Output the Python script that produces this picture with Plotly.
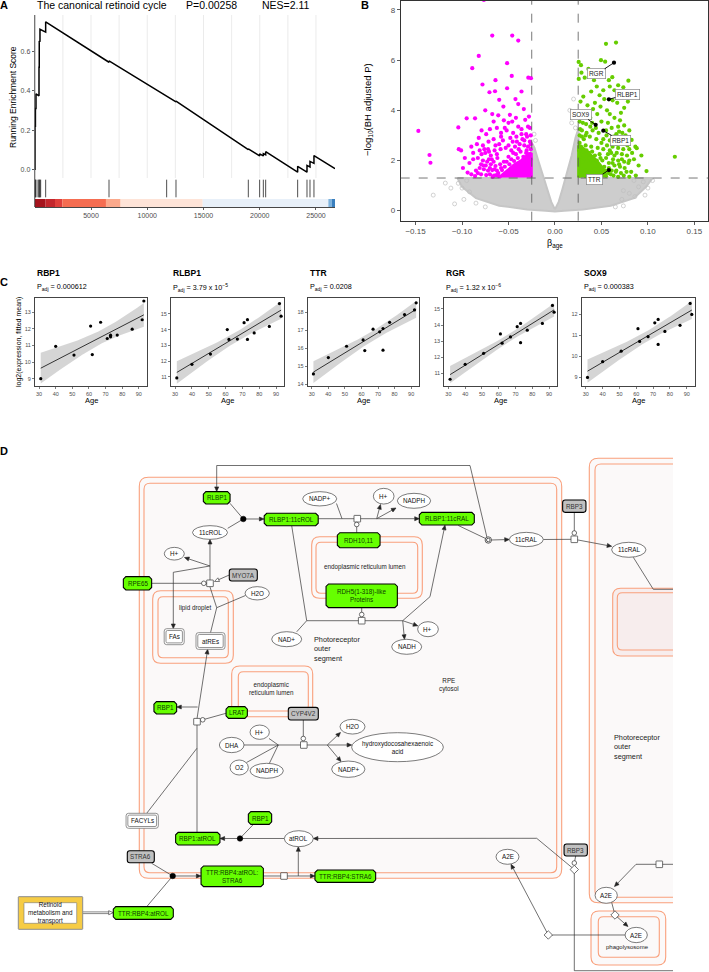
import math
import numpy as np
import plotly.graph_objects as go

W, H = 709, 972
FONT = "Liberation Sans, Arial, sans-serif"

# ======================= DATA =======================
# ---- Panel A: GSEA running enrichment score (rank, score) vertices
es_curve = [(0, 0.0), (20, 0.0), (20, 0.22), (60, 0.22), (60, 0.31), (110, 0.31), (110, 0.385),
            (370, 0.375), (378, 0.375), (378, 0.52), (400, 0.52), (400, 0.655), (465, 0.65),
            (465, 0.714), (850, 0.70), (970, 0.70), (970, 0.752), (6600, 0.546), (6600, 0.553),
            (11725, 0.37), (11725, 0.374), (12555, 0.344), (12555, 0.348), (18985, 0.10),
            (18985, 0.104), (19990, 0.068), (19990, 0.079), (20320, 0.068), (20320, 0.080),
            (20527, 0.074), (20527, 0.09), (23370, -0.015), (23370, 0.015), (24200, -0.015),
            (24200, 0.02), (24467, 0.012), (24467, 0.04), (24820, 0.03), (24820, 0.07), (26690, 0.003)]
hit_ranks = [20, 60, 110, 290, 378, 400, 465, 525, 970, 6600, 11725, 12555, 18985, 19990,
             20320, 20527, 23370, 24200, 24467, 24820]
rank_edges = [0, 970, 1800, 2450, 6330, 7630, 14930, 26100, 26400, 26690]
rank_colors = ['#A6141D', '#C3272D', '#DF3F3B', '#F56D51', '#FBA98C', '#FEE4D8', '#E8F0F9',
               '#7DB2DD', '#3A7FBE']
a_grid = [2500, 5000, 7500, 10000, 12500, 15000, 17500, 20000, 22500, 25000]
a_xticks = [5000, 10000, 15000, 20000, 25000]
a_xticktext = ['5000', '10000', '15000', '20000', '25000']
a_yticks = [0.0, 0.2, 0.4, 0.6]
a_yticktext = ['0.0', '0.2', '0.4', '0.6']

# ---- Panel B: volcano plot
beta_cut = 0.025
p_cut = 1.301
grey_cloud = [(-0.105, 1.3), (-0.0255, 1.3), (-0.0255, 2.75), (-0.022, 2.5), (-0.018, 2.0),
              (-0.013, 1.4), (-0.008, 0.8), (-0.004, 0.35), (0.0, 0.05), (0.004, 0.35),
              (0.008, 0.85), (0.013, 1.5), (0.018, 2.2), (0.022, 2.9), (0.0255, 3.3),
              (0.0255, 1.3), (0.105, 1.3), (0.098, 0.95), (0.085, 0.5), (0.06, 0.2),
              (0.03, 0.05), (0.01, 0.0), (0.0, -0.03), (-0.01, 0.0), (-0.03, 0.05),
              (-0.06, 0.2), (-0.085, 0.5), (-0.1, 0.95), (-0.105, 1.3)]
grey_pts = [(-0.131, 0.62), (-0.108, 0.27), (-0.104, 1.09), (-0.100, 0.9), (-0.095, 1.2),
            (-0.092, 0.75), (-0.098, 0.45), (-0.112, 0.9), (-0.118, 1.1), (0.0736, 0.8),
            (0.080, 0.69), (0.086, 0.56), (0.0969, 0.62), (0.0736, 0.19), (0.090, 0.95),
            (0.095, 1.15), (0.100, 0.9), (0.105, 1.2), (0.085, 1.2), (0.072, 0.45),
            (-0.085, 0.3), (-0.075, 0.15), (0.065, 0.15), (0.02, 4.45), (0.016, 4.0),
            (0.018, 3.5), (0.0215, 3.9), (-0.0225, 3.05), (-0.021, 2.8), (0.022, 3.3)]
down_core = [(-0.0255, 1.32), (-0.0255, 2.3), (-0.03, 2.2), (-0.036, 2.0), (-0.043, 1.85),
             (-0.05, 1.65), (-0.056, 1.45), (-0.06, 1.32)]
down_pts = [(-0.0675, 6.98), (-0.046, 6.98), (-0.0395, 6.78), (-0.082, 6.17), (-0.0515, 5.88),
            (-0.089, 5.68), (-0.0465, 5.37), (-0.0287, 5.3), (-0.0258, 5.28), (-0.064, 5.2),
            (-0.078, 5.03), (-0.0515, 4.88), (-0.0645, 4.76), (-0.036, 4.75), (-0.0705, 4.72),
            (-0.060, 4.42), (-0.0425, 4.45), (-0.0395, 4.25), (-0.0335, 4.05), (-0.0555, 4.15),
            (-0.075, 4.0), (-0.0675, 3.85), (-0.0485, 3.82), (-0.042, 3.7), (-0.095, 3.68),
            (-0.086, 3.68), (-0.055, 3.6), (-0.046, 3.55), (-0.032, 3.62), (-0.028, 3.75),
            (-0.027, 3.3), (-0.0625, 3.3), (-0.104, 3.32), (-0.147, 3.18), (-0.0395, 3.35),
            (-0.036, 3.25), (-0.052, 3.2), (-0.058, 3.1), (-0.074, 3.05), (-0.045, 3.1),
            (-0.031, 3.05), (-0.0415, 2.95), (-0.048, 2.9), (-0.066, 2.85), (-0.0715, 2.75),
            (-0.056, 2.8), (-0.035, 2.85), (-0.027, 2.75), (-0.06, 2.65), (-0.0775, 2.6),
            (-0.090, 2.55), (-0.05, 2.6), (-0.043, 2.55), (-0.1035, 2.45), (-0.101, 2.4),
            (-0.081, 2.4), (-0.072, 2.45), (-0.065, 2.4), (-0.0585, 2.45), (-0.079, 2.25),
            (-0.075, 2.3), (-0.069, 2.2), (-0.0625, 2.25), (-0.135, 2.22), (-0.088, 2.05),
            (-0.083, 2.1), (-0.0775, 2.0), (-0.071, 2.05), (-0.066, 1.95), (-0.134, 1.91),
            (-0.0795, 1.85), (-0.0745, 1.8), (-0.069, 1.85), (-0.064, 1.78), (-0.0765, 1.65),
            (-0.072, 1.6), (-0.0675, 1.62), (-0.0625, 1.6), (-0.094, 1.52), (-0.083, 1.5),
            (-0.0795, 1.45), (-0.074, 1.42), (-0.070, 1.45), (-0.0655, 1.4), (-0.086, 1.38),
            (-0.0605, 1.38), (-0.058, 1.7), (-0.055, 1.95), (-0.05, 2.15), (-0.045, 2.3),
            (-0.039, 2.45), (-0.033, 2.6), (-0.029, 2.55), (-0.026, 2.45), (-0.038, 2.65),
            (-0.0455, 2.75), (-0.053, 2.5), (-0.0305, 2.4), (-0.028, 2.25), (-0.0765, 8.4),
            (-0.026, 2.05), (-0.028, 1.95), (-0.031, 2.3), (-0.034, 2.15), (-0.037, 2.35),
            (-0.040, 2.1), (-0.042, 2.25), (-0.044, 1.98), (-0.047, 2.05), (-0.049, 1.85),
            (-0.052, 1.95), (-0.054, 1.75), (-0.057, 1.62), (-0.059, 1.85), (-0.061, 1.5),
            (-0.063, 1.42), (-0.065, 1.65), (-0.067, 1.35), (-0.068, 2.05), (-0.070, 1.7),
            (-0.073, 1.95), (-0.077, 1.8), (-0.081, 1.7), (-0.085, 1.6), (-0.090, 1.45),
            (-0.092, 1.9), (-0.097, 2.1), (-0.099, 1.7), (-0.088, 2.3), (-0.084, 2.65),
            (-0.082, 2.9), (-0.079, 3.2), (-0.070, 3.25), (-0.066, 3.55), (-0.061, 3.8),
            (-0.058, 2.95), (-0.054, 3.3), (-0.050, 3.5), (-0.047, 2.4), (-0.041, 2.75),
            (-0.036, 3.05), (-0.033, 2.8), (-0.030, 2.95), (-0.029, 3.35), (-0.026, 3.0),
            (-0.026, 2.65), (-0.064, 2.6), (-0.062, 2.1), (-0.071, 2.35), (-0.076, 2.45)]
up_core = [(0.0255, 1.32), (0.0255, 2.6), (0.03, 2.5), (0.036, 2.3), (0.042, 2.1),
           (0.048, 1.85), (0.053, 1.6), (0.056, 1.32)]
up_pts = [(0.0549, 6.65), (0.0657, 6.7), (0.0495, 6.0), (0.054, 5.94), (0.0255, 5.93),
          (0.028, 5.8), (0.036, 5.65), (0.0285, 5.5), (0.0256, 5.25), (0.032, 5.3),
          (0.0617, 5.32), (0.079, 5.18), (0.0736, 4.92), (0.042, 5.2), (0.045, 4.95),
          (0.059, 4.95), (0.068, 5.0), (0.0705, 4.75), (0.039, 4.75), (0.0305, 4.55),
          (0.048, 4.6), (0.053, 4.45), (0.062, 4.4), (0.067, 4.3), (0.0745, 4.1),
          (0.0785, 4.35), (0.0275, 4.35), (0.035, 4.2), (0.041, 4.05), (0.049, 4.15),
          (0.056, 4.0), (0.059, 3.85), (0.064, 3.7), (0.071, 3.9), (0.0455, 3.85),
          (0.038, 3.7), (0.031, 3.75), (0.0265, 3.55), (0.0335, 3.45), (0.040, 3.5),
          (0.050, 3.55), (0.057, 3.5), (0.061, 3.3), (0.068, 3.35), (0.0745, 3.4),
          (0.080, 3.2), (0.0725, 3.1), (0.066, 3.05), (0.0555, 3.0), (0.047, 3.1),
          (0.0405, 3.2), (0.034, 3.1), (0.029, 3.2), (0.0265, 3.0), (0.031, 2.85),
          (0.0375, 2.95), (0.0445, 2.85), (0.052, 2.85), (0.059, 2.8), (0.0645, 2.75),
          (0.070, 2.7), (0.0825, 2.82), (0.0865, 2.55), (0.088, 2.49), (0.078, 2.6),
          (0.0735, 2.45), (0.068, 2.5), (0.062, 2.55), (0.056, 2.6), (0.083, 2.3),
          (0.0775, 2.2), (0.072, 2.25), (0.0665, 2.3), (0.0605, 2.3), (0.129, 2.15),
          (0.080, 2.0), (0.0745, 1.95), (0.068, 2.0), (0.0625, 2.05), (0.070, 1.75),
          (0.064, 1.8), (0.0985, 1.58), (0.077, 1.55), (0.071, 1.5), (0.0655, 1.55),
          (0.061, 1.6), (0.080, 1.35), (0.074, 1.4), (0.068, 1.35), (0.063, 1.4),
          (0.0265, 2.7), (0.033, 2.6), (0.039, 2.55), (0.046, 2.5), (0.052, 2.45),
          (0.057, 2.25), (0.049, 2.1), (0.043, 2.2), (0.0365, 2.3), (0.030, 2.35),
          (0.0265, 2.15), (0.0295, 1.95), (0.035, 2.0), (0.041, 1.9), (0.047, 1.8),
          (0.053, 1.75), (0.058, 1.9), (0.0575, 1.5), (0.052, 1.45), (0.046, 1.5),
          (0.040, 1.55), (0.034, 1.6), (0.028, 1.65), (0.027, 1.4), (0.033, 1.38),
          (0.026, 2.4), (0.028, 2.55), (0.031, 2.2), (0.034, 2.4), (0.037, 2.1), (0.040, 2.35),
          (0.043, 1.65), (0.045, 2.0), (0.048, 2.25), (0.050, 1.55), (0.051, 2.0), (0.054, 1.6),
          (0.055, 2.1), (0.058, 1.7), (0.059, 2.4), (0.060, 1.45), (0.062, 1.9), (0.064, 2.2),
          (0.066, 1.6), (0.069, 1.85), (0.072, 2.05), (0.075, 1.7), (0.079, 1.9), (0.082, 1.55),
          (0.085, 2.05), (0.090, 1.8), (0.093, 2.2), (0.087, 1.4), (0.063, 2.95), (0.066, 2.65),
          (0.055, 3.2), (0.050, 2.7), (0.044, 3.3), (0.038, 3.35), (0.033, 3.0), (0.029, 2.95),
          (0.027, 3.25), (0.030, 3.5), (0.036, 3.9), (0.043, 4.3), (0.052, 4.8), (0.058, 5.2),
          (0.064, 4.8), (0.070, 3.6), (0.076, 3.0), (0.080, 2.45), (0.074, 2.85), (0.069, 3.15)]
hl_genes = ['RGR', 'RLBP1', 'SOX9', 'RBP1', 'TTR']
hl_beta = [0.0635, 0.058, 0.0438, 0.052, 0.058]
hl_logp = [5.9, 4.44, 3.42, 3.19, 1.62]
hl_label_beta = [0.045, 0.078, 0.028, 0.0707, 0.043]
hl_label_logp = [5.45, 4.64, 3.84, 2.79, 1.25]
b_xticks = [-0.15, -0.10, -0.05, 0.0, 0.05, 0.10, 0.15]
b_xticktext = ['\u22120.15', '\u22120.10', '\u22120.05', '0.00', '0.05', '0.10', '0.15']
b_yticks = [0, 2, 4, 6, 8]

# ---- Panel C: expression vs age
ages = [31, 40, 51, 61, 62, 67, 71, 73, 73, 77, 86, 92, 93]
c_genes = ['RBP1', 'RLBP1', 'TTR', 'RGR', 'SOX9']
expr_RBP1 = [9.0, 10.95, 10.42, 12.17, 10.45, 12.4, 11.42, 11.52, 11.62, 11.63, 11.98, 12.55, 13.68]
expr_RLBP1 = [10.94, 11.8, 12.45, 14.0, 13.38, 13.4, 14.44, 14.63, 13.38, 13.79, 14.2, 15.65, 14.85]
expr_TTR = [14.57, 15.48, 16.11, 16.46, 15.87, 17.06, 16.91, 17.09, 15.89, 17.44, 17.87, 18.13, 18.52]
expr_RGR = [10.63, 11.56, 12.24, 13.45, 12.87, 13.26, 13.9, 14.1, 12.9, 13.68, 14.1, 15.22, 14.8]
expr_SOX9 = [9.0, 9.75, 10.25, 11.32, 10.71, 10.94, 11.6, 11.76, 10.57, 11.19, 11.48, 12.52, 12.0]
c_padj = ['0.000612', '3.79 x 10<sup>\u22125</sup>', '0.0208', '1.32 x 10<sup>\u22126</sup>', '0.000383']
c_yranges = [[8.56, 13.86], [10.43, 16.0], [13.9, 18.79], [10.21, 15.68], [8.59, 12.78]]
c_yticks = [[9, 10, 11, 12, 13], [11, 12, 13, 14, 15], [14, 15, 16, 17, 18],
            [11, 12, 13, 14, 15], [9, 10, 11, 12]]
c_xticks = [30, 40, 50, 60, 70, 80, 90]
T_975_DF11 = 2.201

# ---- Panel D: pathway diagram (label, centre x, centre y, width, height, kind) in page pixels
d_nodes = [
    ('RLBP1', 216.7, 497.8, 26.7, 12.3, 'g'),
    ('RLBP1:11cROL', 291.2, 519.5, 54, 12.4, 'g'),
    ('11cROL', 210, 532.5, 35, 13.7, 'e'),
    ('H+', 174.3, 553.7, 20, 12.7, 'e'),
    ('NADP+', 319.7, 498.8, 34, 14.3, 'e'),
    ('RPE65', 137.5, 583.3, 28.3, 13.3, 'g'),
    ('MYO7A', 243.3, 575, 28, 12, 'k'),
    ('H2O', 257.2, 593.3, 24.3, 13.3, 'e'),
    ('FAs', 174.2, 636.7, 20, 16, 'd'),
    ('atREs', 210.5, 641, 29, 16.7, 'd'),
    ('NAD+', 286.7, 639.2, 30, 15, 'e'),
    ('RDH10,11', 358.7, 540.2, 42.7, 15, 'g'),
    ('RDH5(1-318)-like<br>Proteins', 361.7, 595.8, 71.3, 23.7, 'g'),
    ('H+', 383.7, 496.2, 20.7, 15.7, 'e'),
    ('NADPH', 414, 500.8, 33.3, 15, 'e'),
    ('RLBP1:11cRAL', 446.8, 518.7, 55, 12.7, 'g'),
    ('11cRAL', 526.3, 539.5, 34, 14.3, 'e'),
    ('RBP3', 574.3, 506.2, 23.3, 12.3, 'k'),
    ('11cRAL', 628.8, 549.8, 34.3, 15, 'e'),
    ('H+', 428, 629.2, 20.7, 15, 'e'),
    ('NADH', 406.7, 646.8, 30, 15, 'e'),
    ('RBP1', 165.3, 707.8, 22.7, 12.3, 'g'),
    ('LRAT', 236.7, 712.5, 21.3, 11.7, 'g'),
    ('CYP4V2', 303.3, 713.7, 30, 12.7, 'k'),
    ('H+', 259.7, 732.2, 19.3, 14.3, 'e'),
    ('DHA', 231.7, 745, 24.7, 15.3, 'e'),
    ('O2', 239.2, 767.5, 18.3, 15, 'e'),
    ('NADPH', 266.7, 770.8, 33.3, 15, 'e'),
    ('H2O', 352.5, 726.7, 25, 14.7, 'e'),
    ('hydroxydocosahexaenoic<br>acid', 397.5, 747.2, 91.7, 29, 'e'),
    ('NADP+', 348.3, 769.2, 33.3, 16.3, 'e'),
    ('FACYLs', 142.2, 820.8, 32.3, 15, 'd'),
    ('RBP1', 260, 818, 23.3, 12.7, 'g'),
    ('RBP1:atROL', 197.8, 838.7, 44.3, 12.7, 'g'),
    ('atROL', 298.8, 838.7, 29, 16, 'e'),
    ('STRA6', 140.8, 856.7, 27, 12, 'k'),
    ('TTR:RBP4:atROL:<br>STRA6', 232.2, 876.3, 62.3, 20.7, 'g'),
    ('TTR:RBP4:STRA6', 345.3, 876.2, 60.7, 12.3, 'g'),
    ('TTR:RBP4:atROL', 143.3, 913, 60, 12.7, 'g'),
    ('RBP3', 575.7, 850, 23.3, 12, 'k'),
    ('A2E', 507.5, 856.8, 23, 15, 'e'),
    ('A2E', 606.2, 895.3, 22.3, 16, 'e'),
    ('A2E', 636.2, 935, 22.3, 15.3, 'e'),
]
# compartments: (outer box, inner box, radius, fill)
d_compartments = [
    ((139.3, 477.3, 561.7, 878.3), (144, 483.3, 556.7, 872.7), 9, '#FBF9F9'),
    ((589.3, 458.3, 700, 902.7), (595, 464, 700, 897.3), 9, '#FBF9F9'),
    ((612.7, 588.3, 700, 656), (617.3, 592.7, 700, 650), 8, '#F7EDED'),
    ((591, 911, 665.7, 965), (598.3, 916.7, 659.3, 957.3), 8, '#FBF9F9'),
    ((152.7, 590.7, 233.3, 663.3), (158, 596.7, 228.3, 657.7), 8, '#FBF9F9'),
    ((311.7, 536.7, 422.3, 598.3), (316, 542.3, 417.7, 593.3), 8, '#FBF9F9'),
    ((231.7, 666, 312.7, 716.7), (238.3, 671.7, 308.3, 711), 8, '#FBF9F9'),
]
d_labels = [
    ('lipid droplet', 195, 607.5, 6.3, 'center'),
    ('endoplasmic reticulum lumen', 365, 567.3, 6.3, 'center'),
    ('endoplasmic<br>reticulum lumen', 271, 688.3, 6.3, 'center'),
    ('RPE<br>cytosol', 449, 685, 6.3, 'center'),
    ('Photoreceptor<br>outer<br>segment', 311.5, 648.5, 7.3, 'left'),
    ('Photoreceptor<br>outer<br>segment', 611.5, 747.3, 7.3, 'left'),
    ('phagolysosome', 627, 947.3, 6.0, 'center'),
]
# edges: polyline points, arrowhead style at the end (None, 'fill', 'open')
d_edges = [
    ([(470, 465.5), (216.7, 465.5), (216.7, 491.5)], 'fill'),
    ([(470, 465.5), (487, 537.5)], None),
    ([(230, 503.3), (243.3, 519)], None),
    ([(227.7, 528.3), (243.3, 519)], None),
    ([(243.3, 519), (264, 519)], 'fill'),
    ([(318.3, 518.7), (357.3, 518.7)], None),
    ([(336.5, 503.5), (342, 518.7)], None),
    ([(357.3, 518.7), (376.7, 518.7)], None),
    ([(376.7, 518.7), (419.3, 518.7)], 'fill'),
    ([(376.7, 518.7), (380.5, 504.5)], 'fill'),
    ([(376.7, 518.7), (396, 508)], 'fill'),
    ([(356.7, 532.7), (356.7, 524.5)], None),
    ([(291.7, 525.7), (306.7, 620.7), (361.7, 620.7)], None),
    ([(296.7, 631.8), (306.7, 620.7)], None),
    ([(361.7, 620.7), (402.7, 620.7)], None),
    ([(402.7, 620.7), (417.8, 625.8)], 'fill'),
    ([(402.7, 620.7), (404.5, 639.3)], 'fill'),
    ([(402.7, 620.7), (430, 596.7), (445, 525.2)], 'fill'),
    ([(361.7, 607.7), (361.7, 614.5)], None),
    ([(458.3, 525.5), (486, 538.7)], None),
    ([(491.3, 540), (509.3, 539.5)], 'fill'),
    ([(543.3, 539.5), (574.3, 539.3)], None),
    ([(574.3, 539.3), (611.7, 546.3)], 'fill'),
    ([(574.3, 512.3), (574.3, 533)], None),
    ([(633.3, 557.3), (653.3, 589.3), (690, 589.3)], None),
    ([(210, 583.3), (210, 539.4)], 'fill'),
    ([(151.7, 583.3), (210, 583.3)], None),
    ([(229.3, 575), (214.5, 581.5)], 'open'),
    ([(210, 566), (184.5, 557.5)], 'fill'),
    ([(210, 566), (173.3, 572.3), (173.3, 628.6)], 'fill'),
    ([(210.5, 632.7), (216.7, 607.7), (210, 587)], None),
    ([(245.5, 595.5), (216.7, 607.7)], None),
    ([(197, 721.7), (197, 832.3)], None),
    ([(197, 718.7), (207.7, 649.3)], 'fill'),
    ([(197.6, 707), (176.7, 707)], 'fill'),
    ([(226, 713.3), (202.7, 719.8)], None),
    ([(146.7, 813.3), (196.9, 748.3)], None),
    ([(303.3, 720), (303.3, 738.5)], None),
    ([(244, 745), (303.8, 745)], None),
    ([(269, 738.5), (278.3, 745)], None),
    ([(246.5, 762.5), (278.3, 745)], None),
    ([(269.3, 763.5), (278.3, 745)], None),
    ([(303.8, 745), (327.3, 745)], None),
    ([(327.3, 745), (340.5, 732.5)], 'fill'),
    ([(327.3, 745), (351.7, 745)], 'fill'),
    ([(327.3, 745), (341, 761.5)], 'fill'),
    ([(253.5, 824.3), (240, 838.3)], None),
    ([(284.3, 838.5), (240, 838.5)], None),
    ([(240, 838.5), (220, 838.5)], 'fill'),
    ([(536.7, 838.3), (313.3, 838.5)], 'fill'),
    ([(536.7, 838.3), (574.3, 869.5)], None),
    ([(575.7, 856), (574.3, 863)], None),
    ([(574.3, 869.5), (574.3, 970.7), (690, 970.7)], None),
    ([(151.7, 863.3), (172.7, 876)], None),
    ([(146.7, 906.7), (172.7, 876)], None),
    ([(172.7, 876), (201, 876)], 'fill'),
    ([(263.3, 876), (284, 876)], None),
    ([(284, 876), (315, 876)], 'fill'),
    ([(298.3, 876), (298.3, 846.7)], 'fill'),
    ([(548.3, 935), (511, 864.3)], 'fill'),
    ([(548.3, 935), (625, 935)], None),
    ([(611.7, 902.5), (615, 915)], None),
    ([(615, 915), (628, 926.5)], 'fill'),
    ([(690, 864.3), (636, 864.3), (614.5, 886.5)], 'fill'),
]
d_squares = [(357.3, 518.7), (210, 583.3), (361.7, 620.7), (574.3, 539.3), (197, 721.7),
             (303.8, 745), (284, 876), (659.3, 864.3)]
d_cat_circles = [(356.7, 524.5), (203.8, 583.3), (361.7, 614.5), (574.3, 533), (202.7, 719.8),
                 (303.3, 738.5), (574.3, 863)]
d_bind = [(243.3, 519), (240, 838.5), (172.7, 876)]
d_dissoc = [(488.3, 540)]
d_diamonds = [(574.3, 869.5), (548.3, 935), (615, 915)]

# ======================= HELPERS =======================
def X(px):
    return px / W


def Y(py):
    return 1 - py / H


def dom_x(a, b):
    return [a / W, b / W]


def dom_y(top, bottom):
    return [1 - bottom / H, 1 - top / H]


def P(x, y):
    return f"{X(x):.5f},{Y(y):.5f}"


def rr(x0, y0, x1, y1, r):
    return (f"M{P(x0 + r, y0)} L{P(x1 - r, y0)} Q{P(x1, y0)} {P(x1, y0 + r)} L{P(x1, y1 - r)} "
            f"Q{P(x1, y1)} {P(x1 - r, y1)} L{P(x0 + r, y1)} Q{P(x0, y1)} {P(x0, y1 - r)} "
            f"L{P(x0, y0 + r)} Q{P(x0, y0)} {P(x0 + r, y0)} Z")


def octo(x0, y0, x1, y1, c):
    pts = [(x0 + c, y0), (x1 - c, y0), (x1, y0 + c), (x1, y1 - c), (x1 - c, y1), (x0 + c, y1),
           (x0, y1 - c), (x0, y0 + c)]
    return "M" + " L".join(P(x, y) for x, y in pts) + " Z"


def poly(pts, closed=False):
    return "M" + " L".join(P(x, y) for x, y in pts) + (" Z" if closed else "")


shapes = []
annos = []


def add_path(path, color, width, fill=None, layer='above'):
    shapes.append(dict(type='path', path=path, xref='paper', yref='paper',
                       line=dict(color=color, width=width),
                       fillcolor=fill if fill else 'rgba(0,0,0,0)', layer=layer))


def add_head(tail, head, style, length=4.6, half=2.0):
    dx, dy = head[0] - tail[0], head[1] - tail[1]
    n = math.hypot(dx, dy)
    ux, uy = dx / n, dy / n
    bx, by = head[0] - ux * length, head[1] - uy * length
    nx, ny = -uy, ux
    tri = [head, (bx + nx * half, by + ny * half), (bx - nx * half, by - ny * half)]
    add_path(poly(tri, True), '#222222', 0.6, '#222222' if style == 'fill' else 'white')
    return (bx, by)


def add_text(txt, px, py, size, color='#111111', align='center', bold=False, angle=0):
    annos.append(dict(x=X(px), y=Y(py), xref='paper', yref='paper',
                      text=f"<b>{txt}</b>" if bold else txt, textangle=angle,
                      showarrow=False, font=dict(size=size, color=color, family=FONT),
                      align=align, xanchor='left' if align == 'left' else 'center',
                      yanchor='middle'))


fig = go.Figure()
layout_axes = {}
hidden = dict(visible=False)

# ======================= PANEL A =======================
es_rank = [p[0] for p in es_curve]
es_score = [p[1] for p in es_curve]
a_left, a_right = 34.75, 335
a_dom = dom_x(a_left, a_right)
a_range = [0, 26690]
for gv in a_grid:
    shapes.append(dict(type='line', xref='x', yref='y domain', x0=gv, x1=gv, y0=0, y1=1,
                       line=dict(color='#E9E9E9', width=0.9), layer='below'))
fig.add_trace(go.Scatter(x=es_rank, y=es_score, mode='lines', line=dict(color='black', width=1.5),
                         xaxis='x', yaxis='y', showlegend=False, hoverinfo='skip'))
rx, ry = [], []
for hpos in hit_ranks:
    rx += [hpos, hpos, None]
    ry += [0.08, 0.92, None]
fig.add_trace(go.Scatter(x=rx, y=ry, mode='lines', line=dict(color='#222222', width=0.8),
                         xaxis='x2', yaxis='y2', showlegend=False, hoverinfo='skip'))
for i, c in enumerate(rank_colors):
    shapes.append(dict(type='rect', xref='x3', yref='y3', x0=rank_edges[i], x1=rank_edges[i + 1],
                       y0=0, y1=1, fillcolor=c, line=dict(width=0), layer='below'))
# continuous left axis line through the three stacked strips
shapes.append(dict(type='line', xref='paper', yref='paper', x0=X(a_left), x1=X(a_left),
                   y0=Y(207), y1=Y(15), line=dict(color='#333333', width=0.9), layer='above'))

axline = dict(showline=True, linecolor='#333333', linewidth=0.9, zeroline=False, showgrid=False)
layout_axes['xaxis'] = dict(domain=a_dom, range=a_range, anchor='y', **hidden)
layout_axes['yaxis'] = dict(domain=dom_y(15, 178), range=[-0.0444, 0.787], anchor='x',
                            tickvals=a_yticks, ticktext=a_yticktext, ticks='outside', ticklen=2,
                            tickwidth=0.8, tickcolor='#333333', showline=False, zeroline=False,
                            showgrid=False, tickfont=dict(size=7, color='#4D4D4D', family=FONT))
layout_axes['xaxis2'] = dict(domain=a_dom, range=a_range, anchor='y2', **hidden)
layout_axes['yaxis2'] = dict(domain=dom_y(178, 199), range=[0, 1], anchor='x2', **hidden)
layout_axes['xaxis3'] = dict(domain=a_dom, range=a_range, anchor='y3', tickvals=a_xticks,
                             ticktext=a_xticktext, ticks='outside', ticklen=2, tickwidth=0.8,
                             tickcolor='#333333', tickfont=dict(size=7, color='#4D4D4D', family=FONT),
                             **axline)
layout_axes['yaxis3'] = dict(domain=dom_y(199, 207), range=[0, 1], anchor='x3', **hidden)
add_text('The canonical retinoid cycle', 35, 5.5, 10.5, color='black', align='left')
add_text('P=0.00258', 184, 5.5, 10.5, color='black', align='left')
add_text('NES=2.11', 260, 5.5, 10.5, color='black', align='left')
add_text('Running Enrichment Score', 13, 97, 8.5, color='black', angle=-90)

# ======================= PANEL B =======================
def split(pts):
    return [p[0] for p in pts], [p[1] for p in pts]


gx, gy = split(grey_cloud)
fig.add_trace(go.Scatter(x=gx, y=gy, mode='lines', fill='toself', fillcolor='#CDCDCD',
                         line=dict(color='#C6C6C6', width=2), xaxis='x4', yaxis='y4',
                         showlegend=False, hoverinfo='skip'))
gx, gy = split(grey_pts)
fig.add_trace(go.Scatter(x=gx, y=gy, mode='markers', xaxis='x4', yaxis='y4',
                         marker=dict(symbol='circle-open', size=4, color='#BEBEBE',
                                     line=dict(width=0.7)), showlegend=False, hoverinfo='skip'))
for core, pts, col in [(down_core, down_pts, '#FF00FF'), (up_core, up_pts, '#66CD00')]:
    cx_, cy_ = split(core)
    fig.add_trace(go.Scatter(x=cx_, y=cy_, mode='lines', fill='toself', fillcolor=col,
                             line=dict(color=col, width=3), xaxis='x4', yaxis='y4',
                             showlegend=False, hoverinfo='skip'))
    px_, py_ = split(pts)
    fig.add_trace(go.Scatter(x=px_, y=py_, mode='markers', xaxis='x4', yaxis='y4',
                             marker=dict(size=4.2, color=col), showlegend=False, hoverinfo='skip'))
fig.add_trace(go.Scatter(x=hl_beta, y=hl_logp, mode='markers', xaxis='x4', yaxis='y4',
                         marker=dict(size=4.2, color='black'), showlegend=False, hoverinfo='skip'))
for g, bx, by, lx, ly in zip(hl_genes, hl_beta, hl_logp, hl_label_beta, hl_label_logp):
    annos.append(dict(x=bx, y=by, xref='x4', yref='y4', ax=lx, ay=ly, axref='x4', ayref='y4',
                      text=g, showarrow=True, arrowhead=0, arrowwidth=0.9, arrowcolor='black',
                      font=dict(size=6.5, color='#222222', family=FONT), bgcolor='white',
                      bordercolor='#888888', borderwidth=0.7, borderpad=1.2))
b_box = dict(showline=True, mirror=True, linecolor='#333333', linewidth=1, zeroline=False,
             showgrid=False, ticks='outside', ticklen=3, tickwidth=0.8, tickcolor='#333333',
             tickfont=dict(size=8, color='#4D4D4D', family=FONT))
layout_axes['xaxis4'] = dict(domain=dom_x(400.7, 708.3), range=[-0.166, 0.165], anchor='y4',
                             tickvals=b_xticks, ticktext=b_xticktext, **b_box)
layout_axes['yaxis4'] = dict(domain=dom_y(0.7, 220.7), range=[-0.4, 8.37], anchor='x4',
                             tickvals=b_yticks, **b_box)
for xv in (-beta_cut, beta_cut):
    shapes.append(dict(type='line', xref='x4', yref='y4 domain', x0=xv, x1=xv, y0=0, y1=1,
                       line=dict(color='#555555', width=0.8, dash='dash'), layer='above'))
shapes.append(dict(type='line', xref='x4 domain', yref='y4', x0=0, x1=1, y0=p_cut, y1=p_cut,
                   line=dict(color='#555555', width=0.8, dash='dash'), layer='above'))
add_text('\u03b2<sub>age</sub>', 555, 243.5, 9, color='black')
add_text('\u2212log<sub>10</sub>(BH adjusted P)', 368, 110, 9.5, color='black', angle=-90)

# ======================= PANEL C =======================
c_boxes = [(35, 147), (171, 284.3), (307.7, 419.3), (444.3, 557.3), (581.7, 695)]
c_expr = [expr_RBP1, expr_RLBP1, expr_TTR, expr_RGR, expr_SOX9]
ages_arr = np.array(ages, dtype=float)
xs = np.linspace(min(ages), max(ages), 60)
for i, (gene, ex) in enumerate(zip(c_genes, c_expr)):
    k = i + 5
    xa, ya = f'x{k}', f'y{k}'
    yv = np.array(ex)
    b1, b0 = np.polyfit(ages_arr, yv, 1)
    resid = yv - (b0 + b1 * ages_arr)
    n = len(ages_arr)
    s = np.sqrt(np.sum(resid ** 2) / (n - 2))
    sxx = np.sum((ages_arr - ages_arr.mean()) ** 2)
    fit = b0 + b1 * xs
    se = s * np.sqrt(1 / n + (xs - ages_arr.mean()) ** 2 / sxx)
    lo, hi = fit - T_975_DF11 * se, fit + T_975_DF11 * se
    fig.add_trace(go.Scatter(x=np.concatenate([xs, xs[::-1]]), y=np.concatenate([hi, lo[::-1]]),
                             mode='lines', fill='toself', fillcolor='rgba(150,150,150,0.4)',
                             line=dict(width=0), xaxis=xa, yaxis=ya, showlegend=False,
                             hoverinfo='skip'))
    fig.add_trace(go.Scatter(x=xs, y=fit, mode='lines', line=dict(color='#333333', width=1),
                             xaxis=xa, yaxis=ya, showlegend=False, hoverinfo='skip'))
    fig.add_trace(go.Scatter(x=ages, y=ex, mode='markers', marker=dict(size=3.2, color='black'),
                             xaxis=xa, yaxis=ya, showlegend=False, hoverinfo='skip'))
    x0, x1 = c_boxes[i]
    cbox = dict(showline=True, mirror=True, linecolor='#444444', linewidth=1, zeroline=False,
                showgrid=False, ticks='outside', ticklen=2, tickwidth=0.7, tickcolor='#444444',
                tickfont=dict(size=5.5, color='#4D4D4D', family=FONT))
    layout_axes[f'xaxis{k}'] = dict(domain=dom_x(x0, x1), range=[27.55, 94.9], anchor=ya,
                                    tickvals=c_xticks, **cbox)
    layout_axes[f'yaxis{k}'] = dict(domain=dom_y(298, 386), range=c_yranges[i], anchor=xa,
                                    tickvals=c_yticks[i], **cbox)
    add_text(gene, x0, 273, 8.5, color='black', align='left', bold=True)
    add_text(f'P<sub>adj</sub> = {c_padj[i]}', x0, 287.5, 7.2, color='black', align='left')
    add_text('Age', (x0 + x1) / 2, 400.5, 7.5, color='black')
add_text('log2(expression, fitted mean)', 19, 342, 7, color='black', angle=-90)

# ======================= PANEL D =======================
ORANGE = '#F9A07C'
for (o, inn, r, fill) in d_compartments:
    add_path(rr(*o, r), ORANGE, 1.1, fill)
    add_path(rr(*inn, max(r - 3, 3)), ORANGE, 1.1, fill)
for pts, head in d_edges:
    if head:
        base = add_head(pts[-2], pts[-1], head)
        add_path(poly(pts[:-1] + [base]), '#333333', 0.7)
    else:
        add_path(poly(pts), '#333333', 0.7)
# double connector from the pathway box
add_path(poly([(82.7, 911.9), (108.8, 911.9)]), '#555555', 0.7)
add_path(poly([(82.7, 913.6), (108.8, 913.6)]), '#555555', 0.7)
add_head((100, 912.7), (113.3, 912.7), 'open')
# yellow pathway box
add_path(rr(18.3, 896.7, 82.7, 929.3, 0.5), '#8C8C8C', 1, '#F6CC45')
add_path(rr(24, 902.7, 76.7, 923.3, 0.5), '#777777', 0.6, 'white')
add_text('Retinoid<br>metabolism and<br>transport', 50.5, 913, 6.3)
for (sx, sy) in d_squares:
    add_path(rr(sx - 3.3, sy - 3.3, sx + 3.3, sy + 3.3, 0.3), '#333333', 0.7, 'white')
for (cx_, cy_) in d_cat_circles:
    shapes.append(dict(type='circle', xref='paper', yref='paper', x0=X(cx_ - 2.3), x1=X(cx_ + 2.3),
                       y0=Y(cy_ + 2.3), y1=Y(cy_ - 2.3), line=dict(color='#333333', width=0.7),
                       fillcolor='white', layer='above'))
for (cx_, cy_) in d_bind:
    shapes.append(dict(type='circle', xref='paper', yref='paper', x0=X(cx_ - 2.8), x1=X(cx_ + 2.8),
                       y0=Y(cy_ + 2.8), y1=Y(cy_ - 2.8), line=dict(color='black', width=0.5),
                       fillcolor='black', layer='above'))
for (cx_, cy_) in d_dissoc:
    for rad in (3.2, 1.8):
        shapes.append(dict(type='circle', xref='paper', yref='paper', x0=X(cx_ - rad),
                           x1=X(cx_ + rad), y0=Y(cy_ + rad), y1=Y(cy_ - rad),
                           line=dict(color='#333333', width=0.8), fillcolor='white', layer='above'))
for (cx_, cy_) in d_diamonds:
    add_path(poly([(cx_, cy_ - 4.2), (cx_ + 4.2, cy_), (cx_, cy_ + 4.2), (cx_ - 4.2, cy_)], True),
             '#333333', 0.7, 'white')
for (lab, cx_, cy_, w, h, kind) in d_nodes:
    x0, x1, y0, y1 = cx_ - w / 2, cx_ + w / 2, cy_ - h / 2, cy_ + h / 2
    tcol = '#111111'
    if kind == 'g':
        add_path(octo(x0, y0, x1, y1, 2.5), 'black', 1.1, '#66FF00')
        tcol = '#0D3B00'
    elif kind == 'k':
        add_path(rr(x0, y0, x1, y1, 2.5), 'black', 1.1, '#C0C0C0')
        tcol = '#333333'
    elif kind == 'e':
        shapes.append(dict(type='circle', xref='paper', yref='paper', x0=X(x0), x1=X(x1),
                           y0=Y(y1), y1=Y(y0), line=dict(color='#444444', width=0.7),
                           fillcolor='white', layer='above'))
    elif kind == 'd':
        add_path(rr(x0, y0, x1, y1, 2.5), '#777777', 0.8, 'white')
        add_path(rr(x0 + 1.8, y0 + 1.8, x1 - 1.8, y1 - 1.8, 1.5), '#777777', 0.8, 'white')
    add_text(lab, cx_, cy_, 6.3, color=tcol)
for (txt, lx, ly, sz, al) in d_labels:
    add_text(txt, lx, ly, sz, color='#222222', align=al)
# crop of the diagram on the right edge
shapes.append(dict(type='rect', xref='paper', yref='paper', x0=X(673), x1=1.0, y0=0.0, y1=Y(440),
                   fillcolor='white', line=dict(width=0), layer='above'))

# panel letters
for lab, px, py in [('A', 4, 5.5), ('B', 365, 5.5), ('C', 4, 282), ('D', 4, 451)]:
    add_text(lab, px, py, 11, color='black', bold=True)

fig.update_layout(width=W, height=H, margin=dict(l=0, r=0, t=0, b=0), paper_bgcolor='white',
                  plot_bgcolor='white', showlegend=False, shapes=shapes, annotations=annos,
                  font=dict(family=FONT), hovermode=False, **layout_axes)
fig.write_html("out.html", config={'displayModeBar': False, 'staticPlot': True},
               post_script="document.body.style.margin='0px';")
